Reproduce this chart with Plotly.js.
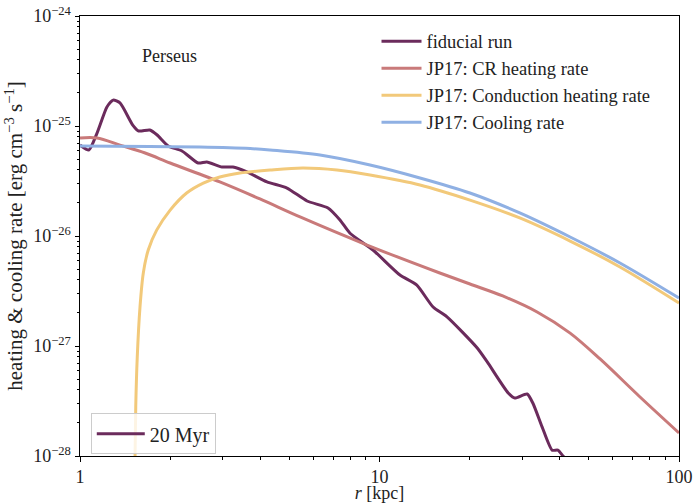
<!DOCTYPE html>
<html><head><meta charset="utf-8">
<script src="https://cdn.plot.ly/plotly-3.0.1.min.js"></script>
<style>html,body{margin:0;padding:0;background:#fff}</style>
</head><body><div id="chart" style="width:694px;height:503px"></div>
<script>
const fiducialR = [1.00,1.07,1.14,1.23,1.29,1.36,1.50,1.57,1.71,1.81,1.97,2.19,2.48,2.65,2.98,3.24,3.61,4.21,4.91,5.73,6.73,7.38,7.97,9.51,11.7,13.3,15.1,16.8,21.2,22.9,26.9,28.3,31.1,32.5,34.9,37.7,39.4,41.0,43.3];
const fiducialQ = [6.71e-26,6.05e-26,8.63e-26,1.49e-25,1.72e-25,1.62e-25,1.02e-25,9.01e-26,9.2e-26,8.28e-26,6.58e-26,5.93e-26,4.61e-26,4.71e-26,4.24e-26,4.24e-26,3.82e-26,3.10e-26,2.73e-26,2.08e-26,1.80e-26,1.40e-26,1.06e-26,7.46e-27,4.42e-27,3.59e-27,2.26e-27,1.84e-27,9.59e-28,7.16e-28,3.74e-28,3.37e-28,3.66e-28,3.03e-28,1.84e-28,1.13e-28,1.13e-28,1.0e-28,8.6e-29];

const crR = [1.00,1.14,1.36,1.65,2.00,2.93,3.99,5.43,9.09,15.9,20.05,25.8,33.6,43.3,54.5,74.1,100];
const crQ = [7.78e-26,7.78e-26,6.71e-26,5.68e-26,4.61e-26,3.10e-26,2.17e-26,1.49e-26,8.28e-27,4.61e-27,3.66e-27,2.85e-27,2.04e-27,1.31e-27,7.62e-28,3.44e-28,1.62e-28];

const condR = [1.523,1.527,1.535,1.553,1.586,1.627,1.690,1.803,2.00,2.27,2.58,2.93,3.42,4.31,5.55,7.21,9.30,13.65,20.05,29.4,43.3,63.5,100];
const condQ = [1e-29,1.02e-28,2.79e-28,7.94e-28,2.26e-27,4.61e-27,7.46e-27,1.13e-26,1.72e-26,2.46e-26,3.03e-26,3.44e-26,3.74e-26,3.98e-26,4.15e-26,3.98e-26,3.58e-26,2.91e-26,2.12e-26,1.46e-26,9.0e-27,5.23e-27,2.46e-27];

const coolR = [1.00,1.71,2.51,3.70,4.31,6.33,9.30,13.65,20.05,29.4,43.3,63.5,100];
const coolQ = [6.58e-26,6.5e-26,6.44e-26,6.24e-26,6.05e-26,5.45e-26,4.42e-26,3.37e-26,2.46e-26,1.62e-26,9.79e-27,5.69e-27,2.73e-27];

const seriesNames = ["fiducial run","JP17: CR heating rate","JP17: Conduction heating rate","JP17: Cooling rate"];
const timeLabel = "20 Myr";
const yTickVals = [1e-28,1e-27,1e-26,1e-25,1e-24];
const yTickText = ["10<sup>−28</sup>","10<sup>−27</sup>","10<sup>−26</sup>","10<sup>−25</sup>","10<sup>−24</sup>"];
const xTickVals = [1,10,100];
const xTickText = ["1","10","100"];

function minorTicks(lo, hi) {
  const out = [];
  for (let d = lo; d < hi; d++) for (let k = 2; k <= 9; k++) out.push(k * Math.pow(10, d));
  return out;
}

const FONT = "Liberation Serif, DejaVu Serif, serif";
const cPurple = "#6b2b5c", cRed = "#c97a7a", cOrange = "#f2c97a", cBlue = "#8fb0e3";

const traces = [
  {x: fiducialR, y: fiducialQ, name: seriesNames[0], mode: "lines", line: {color: cPurple, width: 3, shape: "spline", smoothing: 0.6}, legend: "legend"},
  {x: crR, y: crQ, name: seriesNames[1], mode: "lines", line: {color: cRed, width: 3, shape: "spline", smoothing: 0.9}, legend: "legend"},
  {x: condR, y: condQ, name: seriesNames[2], mode: "lines", line: {color: cOrange, width: 3, shape: "spline", smoothing: 0.9}, legend: "legend"},
  {x: coolR, y: coolQ, name: seriesNames[3], mode: "lines", line: {color: cBlue, width: 3, shape: "spline", smoothing: 0.9}, legend: "legend"},
  {x: [null], y: [null], xaxis: "x2", yaxis: "y2", name: timeLabel, mode: "lines", line: {color: cPurple, width: 3}, legend: "legend2"}
];

const axisCommon = {
  type: "log", showgrid: false, zeroline: false, showline: true, linecolor: "#000", linewidth: 1,
  mirror: true, ticks: "outside", ticklen: 4.5, tickwidth: 1, tickcolor: "#000",
  tickmode: "array", tickfont: {family: FONT, size: 18, color: "#222"}
};
const minorAxis = {
  type: "log", showgrid: false, zeroline: false, showline: false, ticks: "outside", ticklen: 2.5, tickwidth: 1,
  tickcolor: "#000", tickmode: "array", showticklabels: false
};

const layout = {
  width: 694, height: 503,
  margin: {l: 80, r: 15, t: 16, b: 47},
  paper_bgcolor: "#fff", plot_bgcolor: "#fff",
  font: {family: FONT, size: 17, color: "#222"},
  xaxis: Object.assign({}, axisCommon, {range: [0, 2], tickvals: xTickVals, ticktext: xTickText,
    title: {text: "<i>r</i> [kpc]", font: {family: FONT, size: 18, color: "#222"}, standoff: 6}}),
  yaxis: Object.assign({}, axisCommon, {range: [-28, -24], tickvals: yTickVals, ticktext: yTickText,
    title: {text: "heating &amp; cooling rate [erg cm<sup>−3</sup> s<sup>−1</sup>]", font: {family: FONT, size: 21, color: "#222"}, standoff: 4}}),
  xaxis2: Object.assign({}, minorAxis, {overlaying: "x", anchor: "y2", side: "bottom", range: [0, 2], tickvals: minorTicks(0, 2)}),
  yaxis2: Object.assign({}, minorAxis, {overlaying: "y", anchor: "x2", side: "left", range: [-28, -24], tickvals: minorTicks(-28, -24)}),
  showlegend: true,
  legend: {x: 0.495, y: 0.985, xanchor: "left", yanchor: "top", bgcolor: "rgba(255,255,255,0)", borderwidth: 0,
    font: {family: FONT, size: 18.5, color: "#222"}, itemwidth: 40, tracegroupgap: 0},
  legend2: {x: 0.018, y: 0.097, xanchor: "left", yanchor: "top", bgcolor: "rgba(255,255,255,0.8)", bordercolor: "#cccccc", borderwidth: 1,
    font: {family: FONT, size: 20, color: "#222"}, itemwidth: 48},
  annotations: [{text: "Perseus", xref: "paper", yref: "paper", x: 0.15, y: 0.91, xanchor: "center", yanchor: "middle", showarrow: false,
    font: {family: FONT, size: 18, color: "#222"}}]
};

Plotly.newPlot("chart", traces, layout, {displayModeBar: false, staticPlot: true});
</script></body></html>
